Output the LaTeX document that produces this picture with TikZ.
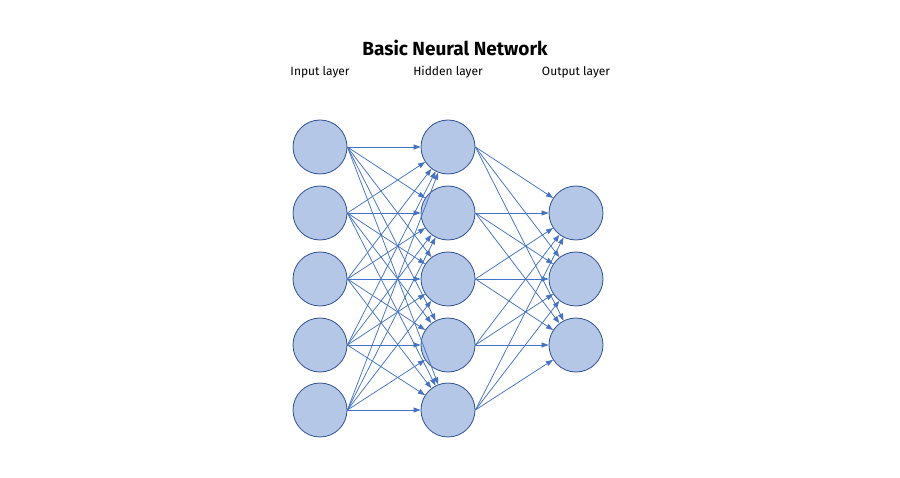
\documentclass[tikz,border=0pt]{standalone}
\usepackage{fontspec}
\setmainfont{Fira Sans}
\usepackage{xcolor}
\usetikzlibrary{arrows.meta}
\definecolor{nnfill}{HTML}{B4C7E7}
\definecolor{nnedge}{HTML}{2F528F}
\definecolor{nnlink}{HTML}{4472C4}

\begin{document}
\begin{tikzpicture}[
  x=1pt, y=-1pt,
  neuron/.style={
    circle, draw=nnedge, line width=0.8pt,
    fill=nnfill, minimum size=54pt, inner sep=0pt
  },
  link/.style={
    draw=nnlink, line width=0.75pt,
    -{Triangle[length=7pt,width=5pt]}
  },
  layer/.style={font=\fontsize{12}{14}\selectfont, text=black}
]
\fill[white] (0,0) rectangle (900,478);
\useasboundingbox (0,0) rectangle (900,478);

\node[font=\fontsize{19}{22}\selectfont\bfseries] (title) at (455,48) {Basic Neural Network};
\node[layer] (lin)  at (320,72) {Input layer};
\node[layer] (lhid) at (448,72) {Hidden layer};
\node[layer] (lout) at (576,72) {Output layer};

% neurons
\foreach \i/\y in {1/147,2/213,3/279,4/345,5/410} {
  \node[neuron] (in\i)  at (320,\y) {};
  \node[neuron] (hid\i) at (448,\y) {};
}
\foreach \i/\y in {1/213,2/279,3/345}
  \node[neuron] (out\i) at (576,\y) {};

% weights
\foreach \i in {1,...,5} {
  \foreach \j in {1,...,5}
    \draw[link] (in\i.east) -- (hid\j);
  \foreach \k in {1,2,3}
    \draw[link] (hid\i.east) -- (out\k);
}
\end{tikzpicture}
\end{document}
